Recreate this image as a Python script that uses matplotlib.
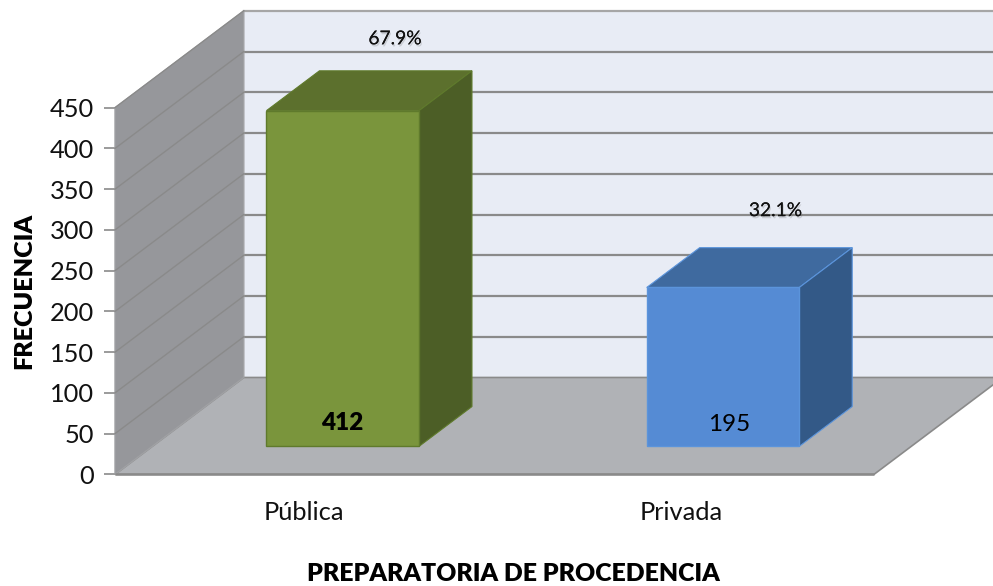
import matplotlib
matplotlib.use("Agg")
import matplotlib.pyplot as plt
import matplotlib.patheffects as pe
from matplotlib.patches import Polygon
from matplotlib.transforms import ScaledTranslation

plt.rcParams['font.family'] = ['Lato', 'DejaVu Sans']

categories = ["Pública", "Privada"]
values = [412, 195]
percents = ["67.9%", "32.1%"]
y_ticks = [0, 50, 100, 150, 200, 250, 300, 350, 400, 450]
x_label = "PREPARATORIA DE PROCEDENCIA"
y_label = "FRECUENCIA"

bar_front = ["#7A953C", "#558BD4"]
bar_top = ["#5C702D", "#3F6A9F"]
bar_side = ["#4C5E26", "#335987"]
bar_edge = ["#5F7A2C", "#5B94DB"]
value_weights = ["heavy", "normal"]

W, H = 993, 586
fig = plt.figure(figsize=(W / 100, H / 100), dpi=100, facecolor="white")
ax = fig.add_axes([115 / W, (H - 474.4) / H, 759 / W, 366.7 / H])
ax.set_xlim(0, 2)
ax.set_ylim(0, 450)
ax.patch.set_visible(False)
for s in ax.spines.values():
    s.set_visible(False)

# depth vector of the floor, in data units
DX = 129 / 380
DY = 97 / (367 / 450)


def pt(x, y, d):
    return (x + DX * d, y + DY * d)


def poly(points, fc, ec="none", lw=0, z=1):
    ax.add_patch(Polygon(points, closed=True, facecolor=fc, edgecolor=ec,
                         linewidth=lw, zorder=z, clip_on=False, joinstyle="miter"))


GRID = "#8A8A8A"
# back wall, floor, left wall
poly([pt(0, 0, 1), pt(0, 450, 1), pt(2, 450, 1), pt(2, 0, 1)], "#E8ECF5", z=1)
poly([pt(0, 0, 0), pt(2, 0, 0), pt(2, 0, 1), pt(0, 0, 1)], "#B0B2B6", GRID, 1.2, z=2)
poly([pt(0, 0, 0), pt(0, 450, 0), pt(0, 450, 1), pt(0, 0, 1)], "#96979B", "#A0A1A4", 1.0, z=2)

for t in y_ticks[1:]:
    xs, ys = zip(pt(0, t, 0), pt(0, t, 1))
    ax.plot(xs, ys, color=GRID, lw=1.0, zorder=3, clip_on=False)
    xs, ys = zip(pt(0, t, 1), pt(2, t, 1))
    ax.plot(xs, ys, color=GRID if t < 450 else "#A6A6A6", lw=1.6, zorder=1.5, clip_on=False)

# front floor edge
ax.plot([0, 2], [0, 0], color=GRID, lw=1.8, zorder=3, clip_on=False, solid_capstyle="butt")

# bars
D0, D1 = 0.289, 0.70
BW = 0.402
SHIFT = [0.002, 0.004]
for i, v in enumerate(values):
    cx = i + 0.5 + SHIFT[i]
    l, r = cx - BW / 2, cx + BW / 2
    poly([pt(l, v, D0), pt(r, v, D0), pt(r, v, D1), pt(l, v, D1)],
         bar_top[i], bar_edge[i], 0.8, z=5)
    poly([pt(r, 0, D0), pt(r, v, D0), pt(r, v, D1), pt(r, 0, D1)],
         bar_side[i], bar_edge[i], 0.8, z=5)
    poly([pt(l, 0, D0), pt(r, 0, D0), pt(r, v, D0), pt(l, v, D0)],
         bar_front[i], bar_edge[i], 1.0, z=6)

# labels
val_off = [(0, 23), (8, 22)]
pct_off = [(0, 32), (1, 37)]
for i, v in enumerate(values):
    x0, y0 = pt(i + 0.5, 0, D0)
    ax.annotate(str(v), (x0, y0), xytext=val_off[i], textcoords="offset pixels",
                ha="center", va="center", fontsize=17.5, fontweight=value_weights[i],
                color="black", zorder=8, annotation_clip=False)
    x1, y1 = pt(i + 0.5, v, D1)
    ax.annotate(percents[i], (x1, y1), xytext=pct_off[i], textcoords="offset pixels",
                ha="center", va="center", fontsize=13.8, color="#111111", zorder=8,
                annotation_clip=False,
                path_effects=[pe.withSimplePatchShadow(offset=(0.8, -1.5), alpha=0.2, shadow_rgbFace="#555555"),
                              pe.Normal()])

ax.set_yticks(y_ticks)
ax.set_yticklabels([str(t) for t in y_ticks], fontsize=18.3, color="#111111")
ax.tick_params(axis="y", length=8, width=1.2, color=GRID, pad=7)
ax.set_xticks([0.5, 1.5])
ax.set_xticklabels(categories, fontsize=18.3, color="#111111")
ax.tick_params(axis="x", length=0, pad=19)
for lab, dx in zip(ax.get_xticklabels(), [-1, -3]):
    lab.set_transform(lab.get_transform() + ScaledTranslation(dx / 100, 0, fig.dpi_scale_trans))

fig.text(513 / W, 1 - 574 / H, x_label, ha="center", va="center", fontsize=17.9, fontweight="heavy", color="black")
fig.text(24 / W, 1 - 291 / H, y_label, ha="center", va="center", rotation=90, fontsize=18.1, fontweight="heavy", color="black")

fig.savefig("out.png", dpi=100, facecolor="white")
